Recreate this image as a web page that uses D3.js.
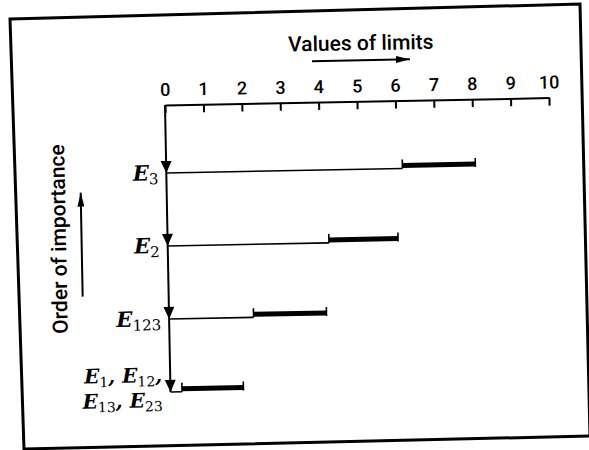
<!DOCTYPE html>
<html>
<head>
<meta charset="utf-8">
<script src="https://cdn.jsdelivr.net/npm/d3@7"></script>
<style>
  body { margin: 0; background: #fff; }
  svg { display: block; }
</style>
</head>
<body>
<div id="app"></div>
<script>
// rows, top to bottom (most important first)
let rowNames = ["E3", "E2", "E123", "E1"];
let lowerLimits = [6.15, 4.2, 2.2, 0.3];
let upperLimits = [8.05, 6.0, 4.1, 1.9];
let tickValues = [0, 1, 2, 3, 4, 5, 6, 7, 8, 9, 10];
// each label line is a list of [main, subscript] pieces
let rowLabels = [
    [[["E", "3"]]],
    [[["E", "2"]]],
    [[["E", "123"]]],
    [[["E", "1"], [", E", "12"], [",", ""]], [["E", "13"], [", E", "23"]]]
];

let sansFont = "Roboto, 'Liberation Sans', Arial, sans-serif";

let svg = d3.select("#app")
.append("svg")
    .attr("width", 589)
    .attr("height", 450)

svg.append("rect")
    .attr("width", 589)
    .attr("height", 450)
    .attr("fill", "#fff")

// scanned frame (slightly skewed)
svg.append("path")
    .attr("d", "M10,19 L580,4 L590,436 L24,449 Z")
    .attr("fill", "none")
    .attr("stroke", "#000")
    .attr("stroke-width", 3)

let defs = svg.append("defs")
defs.append("marker")
    .attr("id", "arrow")
    .attr("viewBox", "0 0 14 7")
    .attr("refX", 14)
    .attr("refY", 3.5)
    .attr("markerUnits", "userSpaceOnUse")
    .attr("markerWidth", 14)
    .attr("markerHeight", 7)
    .attr("orient", "auto")
  .append("path")
    .attr("d", "M0,0 L14,3.5 L0,7 Z")
    .attr("fill", "#000")

// the whole figure is tilted a little in the scan
let g = svg.append("g")
    .attr("class", "main")
    .attr("transform", "translate(165,105) rotate(-1.1)")

let x = d3.scaleLinear()
    .domain([0, 10])
    .range([0, 384])

let y = d3.scalePoint()
    .domain(rowNames)
    .range([68, 287])

// top axis, ticks pointing down
let axis = g.append("g")
    .call(d3.axisTop(x)
        .tickValues(tickValues)
        .tickFormat(d3.format("d"))
        .tickSizeInner(-8)
        .tickSizeOuter(0)
        .tickPadding(9))
    .attr("font-family", sansFont)
    .attr("font-size", 18)
    .attr("font-weight", 500)
axis.select(".domain").attr("stroke-width", 2)
axis.selectAll(".tick line").attr("stroke-width", 2)
axis.selectAll(".tick text").attr("fill", "#000")

// axis title with arrow
g.append("text")
    .attr("x", x(5.13))
    .attr("y", -51)
    .attr("text-anchor", "middle")
    .attr("font-family", sansFont)
    .attr("font-size", 21)
    .attr("font-weight", 500)
    .text("Values of limits")

g.append("line")
    .attr("x1", x(3.85))
    .attr("x2", x(6.4))
    .attr("y1", -41)
    .attr("y2", -41)
    .attr("stroke", "#000")
    .attr("stroke-width", 2)
    .attr("marker-end", "url(#arrow)")

// vertical "order" line
g.append("line")
    .attr("x1", 0)
    .attr("x2", 0)
    .attr("y1", 0)
    .attr("y2", y(rowNames[rowNames.length - 1]))
    .attr("stroke", "#000")
    .attr("stroke-width", 2)

let rows = g.selectAll(".row")
    .data(rowNames)
    .enter()
    .append("g")
    .attr("class", "row")

// thin line from the axis to the lower limit
rows.append("line")
    .attr("x1", 0)
    .attr("x2", (d, i) => x(lowerLimits[i]))
    .attr("y1", d => y(d))
    .attr("y2", d => y(d))
    .attr("stroke", "#000")
    .attr("stroke-width", 1.6)

// thick bar between the limits
rows.append("rect")
    .attr("x", (d, i) => x(lowerLimits[i]))
    .attr("width", (d, i) => x(upperLimits[i]) - x(lowerLimits[i]))
    .attr("y", d => y(d) - 5.5)
    .attr("height", 5)
    .attr("fill", "#000")

// small end ticks of the bars
rows.each(function(d, i) {
    let row = d3.select(this);
    [lowerLimits[i], upperLimits[i]].forEach(v => {
        row.append("line")
            .attr("x1", x(v))
            .attr("x2", x(v))
            .attr("y1", y(d))
            .attr("y2", y(d) - 9)
            .attr("stroke", "#000")
            .attr("stroke-width", 1.6)
    })
})

// arrowheads on the vertical line
rows.append("path")
    .attr("d", d => "M-5.5," + (y(d) - 12) + " L5.5," + (y(d) - 12) + " L0," + y(d) + " Z")
    .attr("fill", "#000")

// row labels with subscripts
rows.each(function(d, i) {
    let lines = rowLabels[i];
    let baselines = lines.length === 1 ? [y(d) + 7] : [y(d) - 10, y(d) + 15];
    let size = lines.length === 1 ? 21 : 20;
    lines.forEach((pieces, j) => {
        let t = d3.select(this).append("text")
            .attr("x", -8)
            .attr("y", baselines[j])
            .attr("text-anchor", "end")
            .attr("font-family", "'DejaVu Serif', serif")
            .attr("font-size", size)
        pieces.forEach((p, k) => {
            t.append("tspan")
                .attr("font-style", "italic")
                .attr("font-weight", "bold")
                .attr("dy", k === 0 ? 0 : -4)
                .text(p[0])
            if (p[1]) {
                t.append("tspan")
                    .attr("font-size", size - 6)
                    .attr("dy", 4)
                    .text(p[1])
            } else {
                t.append("tspan").attr("dy", 4).text("")
            }
        })
    })
})

// vertical title with upward arrow
g.append("text")
    .attr("transform", "translate(-101.6,132) rotate(-90)")
    .attr("text-anchor", "middle")
    .attr("font-family", sansFont)
    .attr("font-size", 21)
    .attr("font-weight", 500)
    .text("Order of importance")

g.append("line")
    .attr("x1", -86)
    .attr("x2", -86)
    .attr("y1", 190)
    .attr("y2", 86)
    .attr("stroke", "#000")
    .attr("stroke-width", 2)
    .attr("marker-end", "url(#arrow)")
</script>
</body>
</html>
